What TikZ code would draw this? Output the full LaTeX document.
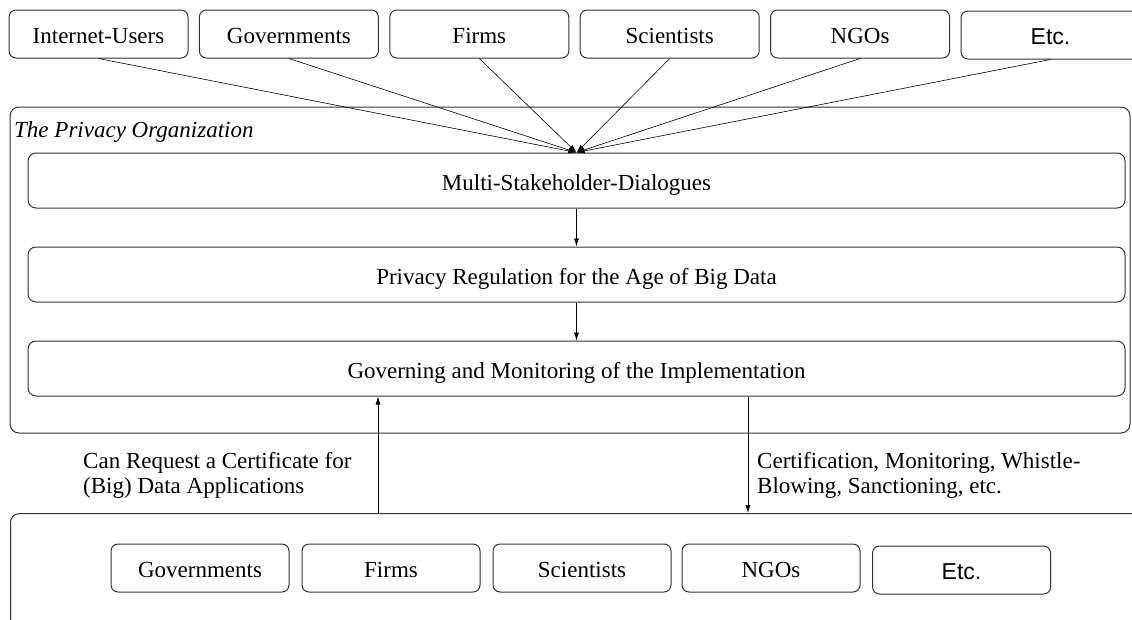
\documentclass[tikz,border=0pt]{standalone}
\usepackage{fontspec}
\setmainfont{Liberation Serif}
\newfontfamily\etcfont{Liberation Sans}
\usetikzlibrary{arrows.meta}
\begin{document}
\begin{tikzpicture}[x=1pt,y=-1pt,
  every node/.style={font=\fontsize{23}{25}\selectfont, inner sep=0pt},
  actor/.style={draw=black!80, line width=1pt, rounded corners=7pt,
    minimum width=179pt, minimum height=48pt, text height=19pt, text depth=0pt},
  stage/.style={draw=black!80, line width=1pt, rounded corners=8pt,
    minimum width=1097pt, minimum height=55pt, text height=19pt, text depth=0pt},
  frame/.style={draw=black!80, line width=1pt, rounded corners=9pt},
  link/.style={-{Latex[length=8pt,width=5pt]}, line width=0.6pt},
  note/.style={align=left, anchor=north west}]
\useasboundingbox (0,0) rectangle (1132,619);
\clip (0,0) rectangle (1132,619);

% stakeholders feeding the dialogues
\node[actor] (iu)  at (98.5,34)  {Internet-Users};
\node[actor] (gov) at (288.9,34) {Governments};
\node[actor] (fir) at (479.3,34) {Firms};
\node[actor] (sci) at (669.7,34) {Scientists};
\node[actor] (ngo) at (860.1,34) {NGOs};
\node[actor] (etc) at (1050.5,35) {\etcfont Etc.};

% the organization and its three stages
\draw[frame] (10,107) rectangle (1130,433);
\node[anchor=base west, font=\fontsize{23}{25}\selectfont\itshape] (orgname) at (14,137) {The Privacy Organization};
\node[stage] (msd) at (576.5,180.5) {Multi-Stakeholder-Dialogues};
\node[stage] (reg) at (576.5,274.5) {Privacy Regulation for the Age of Big Data};
\node[stage] (imp) at (576.5,368.5) {Governing and Monitoring of the Implementation};

\coordinate (hub) at (msd.north);
\foreach \s in {iu,gov,fir,sci,ngo,etc}
  \draw[link] (\s.south) -- (hub);
\draw[link] (msd.south) -- (reg.north);
\draw[link] (reg.south) -- (imp.north);

% data users below
\node[frame, draw, anchor=north west, minimum width=1160pt, minimum height=150pt] (users) at (10,513) {};
\node[actor, minimum width=178pt] (ugov) at (200,568)   {Governments};
\node[actor, minimum width=178pt] (ufir) at (391,568)   {Firms};
\node[actor, minimum width=178pt] (usci) at (582,568)   {Scientists};
\node[actor, minimum width=178pt] (ungo) at (771,568)   {NGOs};
\node[actor, minimum width=178pt] (uetc) at (961.5,570) {\etcfont Etc.};

% requests and oversight between the two
\coordinate (upx) at (378,0);
\coordinate (downx) at (748,0);
\draw[link] (users.north -| upx) -- (imp.south -| upx);
\draw[link] (imp.south -| downx) -- (users.north -| downx);
\node[note] (req) at (83,452) {Can Request a Certificate for\\(Big) Data Applications};
\node[note] (cert) at (757,452) {Certification, Monitoring, Whistle-\\Blowing, Sanctioning, etc.};
\end{tikzpicture}
\end{document}
